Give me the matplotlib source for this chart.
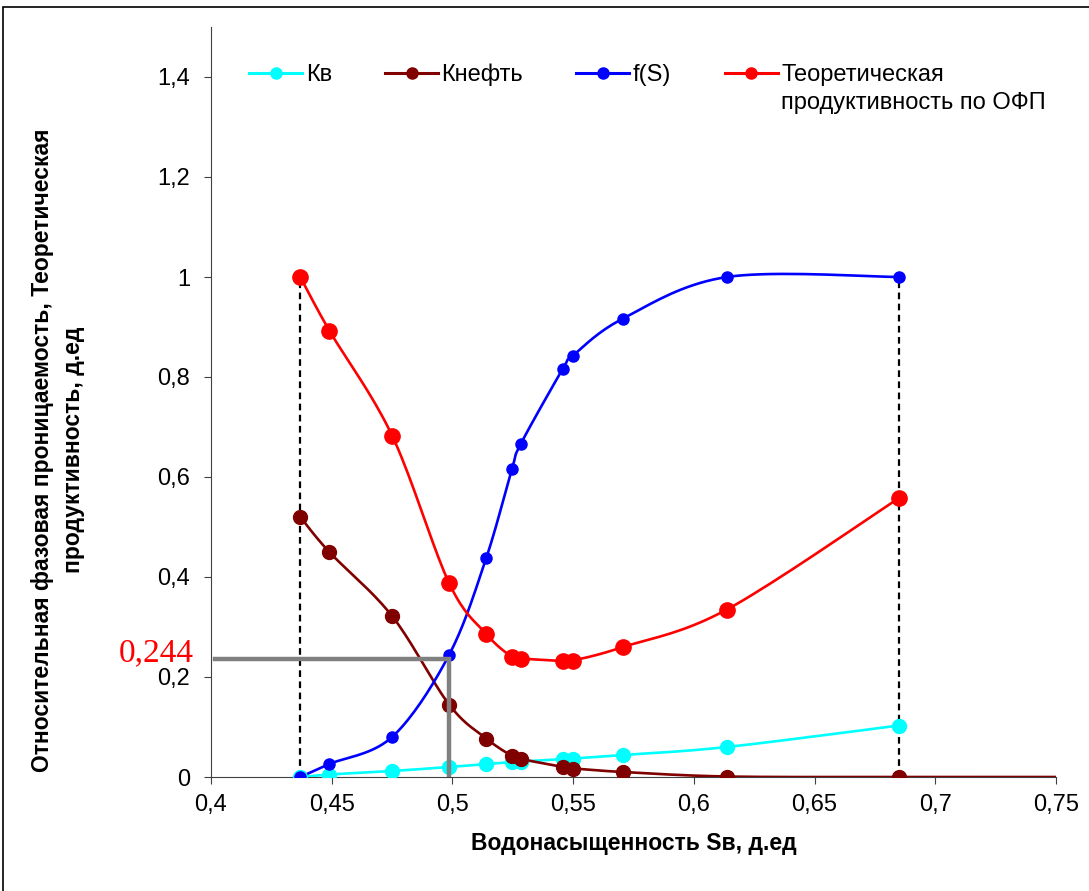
import numpy as np
import matplotlib
matplotlib.use("Agg")
import matplotlib.pyplot as plt
from matplotlib.patches import Rectangle

plt.rcParams['font.family'] = ['Liberation Sans', 'DejaVu Sans']

# данные
sw = [0.437, 0.449, 0.475, 0.4986, 0.514, 0.5247, 0.5284, 0.5458, 0.55, 0.5707, 0.6137, 0.685]
kv = [0.0, 0.005, 0.012, 0.02, 0.026, 0.030, 0.031, 0.036, 0.037, 0.044, 0.060, 0.103]
kneft = [0.52, 0.45, 0.322, 0.145, 0.077, 0.042, 0.036, 0.020, 0.017, 0.010, 0.001, 0.0]
fs = [0.0, 0.026, 0.080, 0.244, 0.438, 0.617, 0.667, 0.817, 0.843, 0.917, 1.0, 1.0]
prod = [1.0, 0.893, 0.683, 0.388, 0.286, 0.240, 0.237, 0.232, 0.233, 0.260, 0.335, 0.558]
# хвост кривой Кнефть до края оси
sw_tail = 0.75
kneft_tail = 0.0

sw_front = 0.4986
f_front = 0.236
xticks = [0.4, 0.45, 0.5, 0.55, 0.6, 0.65, 0.7, 0.75]
yticks = [0, 0.2, 0.4, 0.6, 0.8, 1.0, 1.2, 1.4]


def smooth(x, y, n=20):
    # сглаживание как в Excel (Catmull-Rom)
    x = np.asarray(x, float)
    y = np.asarray(y, float)
    px = np.concatenate([[x[0]], x, [x[-1]]])
    py = np.concatenate([[y[0]], y, [y[-1]]])
    xs, ys = [], []
    t = np.linspace(0, 1, n)
    for i in range(1, len(px) - 2):
        p0x, p1x, p2x, p3x = px[i-1:i+3]
        p0y, p1y, p2y, p3y = py[i-1:i+3]
        b1x = p1x + (p2x - p0x) / 6
        b1y = p1y + (p2y - p0y) / 6
        b2x = p2x - (p3x - p1x) / 6
        b2y = p2y - (p3y - p1y) / 6
        cx = (1-t)**3*p1x + 3*(1-t)**2*t*b1x + 3*(1-t)*t**2*b2x + t**3*p2x
        cy = (1-t)**3*p1y + 3*(1-t)**2*t*b1y + 3*(1-t)*t**2*b2y + t**3*p2y
        xs.extend(cx)
        ys.extend(cy)
    return np.array(xs), np.array(ys)


fig = plt.figure(figsize=(10.89, 8.91), dpi=100)
fig.patches.append(Rectangle((3/1089, -0.1), 1.2, (1 - 7/891) + 0.1,
                             transform=fig.transFigure, fill=False,
                             edgecolor='black', linewidth=1.2))
ax = fig.add_axes([211/1089, 1 - 777/891, (1056-211)/1089, (777-27)/891])

series = [
    (sw, kv, 'cyan', 'Кв', 10),
    (sw + [sw_tail], kneft + [kneft_tail], '#800000', 'Кнефть', 10),
    (sw, fs, 'blue', 'f(S)', 8),
    (sw, prod, 'red', 'Теоретическая', 11),
]
handles = []
for x, y, c, lab, ms in series:
    sx, sy = smooth(x, y)
    ax.plot(sx, sy, color=c, lw=1.9, zorder=3)
    ax.plot(x[:len(sw)], y[:len(sw)], 'o', color=c, ms=ms, zorder=4)
    h, = ax.plot([], [], color=c, lw=2.2, marker='o', ms=8, label=lab)
    handles.append(h)

# пунктирные вертикали
for xv in [sw[0], sw[-1]]:
    ax.plot([xv, xv], [0, 1.0], color='black', ls=(0, (3, 2)), lw=1.6, zorder=2)

# фронт вытеснения
ax.plot([0.4015, sw_front, sw_front], [f_front, f_front, 0], color='gray', lw=3.2, zorder=5,
        solid_joinstyle='miter')
ax.text(0.3774, 0.232, '0,244', color='red', fontsize=24,
        family='Liberation Serif', ha='center', va='baseline', clip_on=False)

ax.set_xlim(0.4, 0.75)
ax.set_ylim(0, 1.5)
ax.set_xticks(xticks)
ax.set_xticklabels([('%g' % v).replace('.', ',') for v in xticks], fontsize=17)
ax.set_yticks(yticks)
ax.set_yticklabels([('%g' % v).replace('.', ',') for v in yticks], fontsize=17)
for s in ['top', 'right']:
    ax.spines[s].set_visible(False)
for s in ['left', 'bottom']:
    ax.spines[s].set_color('#404040')
ax.tick_params(axis='y', direction='out', length=5, color='#404040', pad=10)
ax.tick_params(axis='x', direction='out', length=5, color='#404040', pad=7)

ax.set_xlabel('Водонасыщенность Sв, д.ед', fontsize=16.5, fontweight='bold', labelpad=12)
ax.set_ylabel('Относительная фазовая проницаемость, Теоретическая\nпродуктивность, д.ед',
              fontsize=16.5, fontweight='bold', linespacing=1.45)
ax.yaxis.set_label_coords(-0.149, 0.436)

leg = ax.legend(handles=handles, loc='center left', bbox_to_anchor=(0.045, 0.936), ncol=4,
                frameon=False, fontsize=17, handlelength=2.25, handletextpad=0.15,
                columnspacing=2.25, borderaxespad=0, borderpad=0)

# вторая строка подписи последней серии
fig.canvas.draw()
bb = leg.get_texts()[-1].get_window_extent().transformed(fig.transFigure.inverted())
fig.text(bb.x0, bb.y0 - 28/891, 'продуктивность по ОФП', fontsize=17,
         ha='left', va='bottom')

plt.savefig('out.png', dpi=100)
